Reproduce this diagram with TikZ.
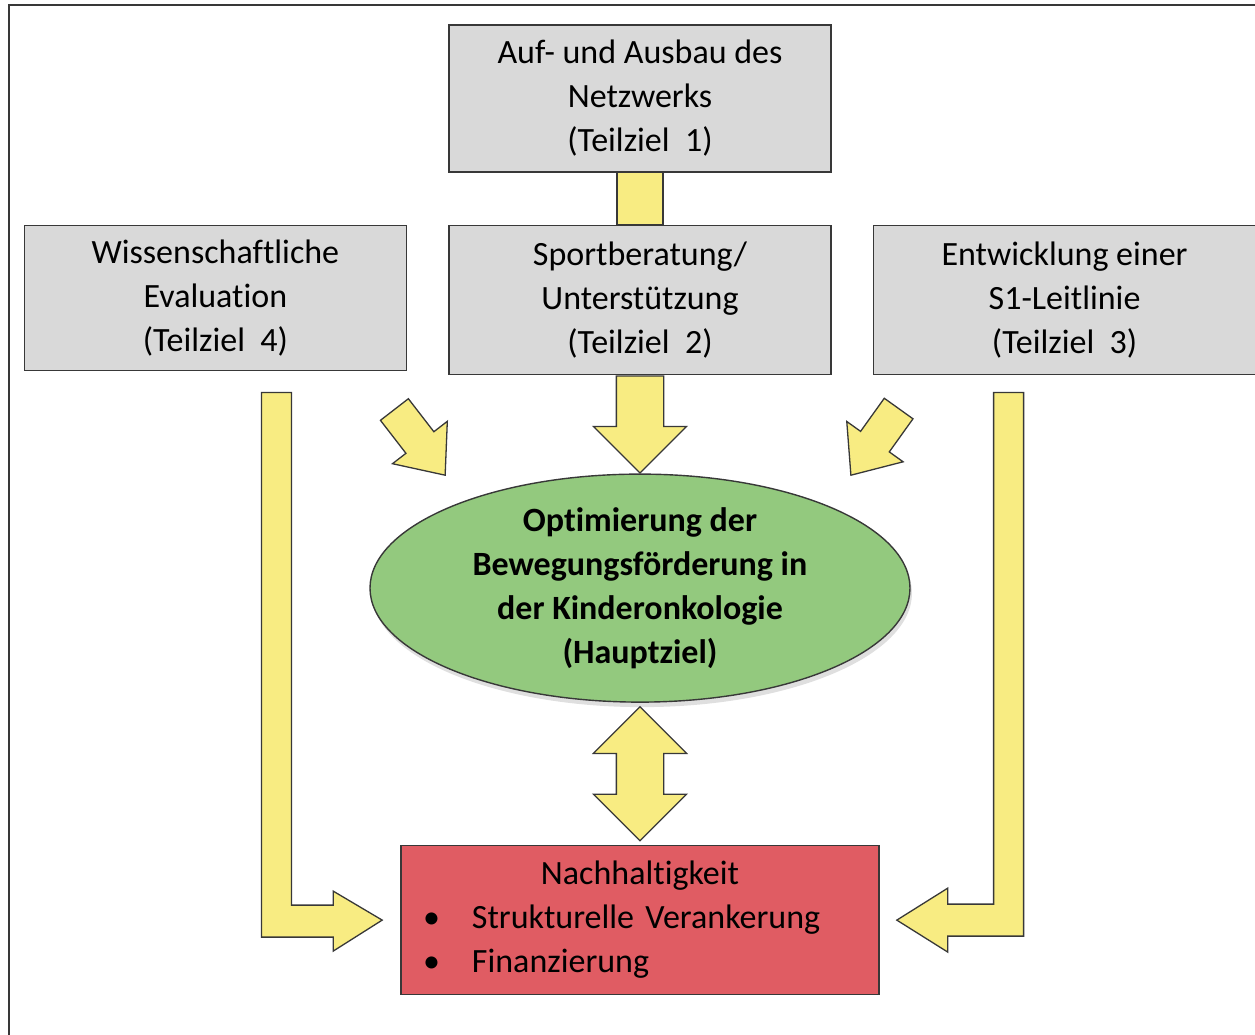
\documentclass[tikz,border=0pt]{standalone}
\usepackage{fontspec}
\setmainfont{Carlito}[Ligatures=NoCommon]
\usepackage{xcolor}
\definecolor{clEdge}{HTML}{383838}
\definecolor{clGoal}{HTML}{D9D9D9}
\definecolor{clMain}{HTML}{93C97E}
\definecolor{clResult}{HTML}{E05C63}
\definecolor{clArrow}{HTML}{F8EC82}
\usepackage{tikz}
\usetikzlibrary{positioning,calc,shapes.geometric,shapes.arrows,shadows}
\tikzset{
  goal/.style={rectangle, draw=clEdge, line width=1.6pt, fill=clGoal, align=center,
               minimum width=382pt, minimum height=149pt, inner sep=0pt},
  main/.style={ellipse, draw=clEdge, line width=1.4pt, fill=clMain, inner sep=0pt,
               minimum width=540pt, minimum height=228pt,
               drop shadow={shadow xshift=2pt, shadow yshift=-5pt, opacity=.25}},
  result/.style={rectangle, draw=clEdge, line width=1.6pt, fill=clResult, align=left,
                 minimum width=478pt, minimum height=149pt, text width=434pt, inner xsep=22pt},
  fat/.style={draw=clEdge, line width=1.3pt, fill=clArrow},
  fatarrow/.style={single arrow, fat, inner xsep=0pt, inner ysep=23pt,
                   single arrow head extend=23pt, minimum width=92pt, single arrow tip angle=90},
  slimarrow/.style={single arrow, fat, inner xsep=0pt, inner ysep=17pt,
                    single arrow head extend=17pt, minimum width=68pt, single arrow tip angle=80},
}

\begin{document}
\begin{tikzpicture}[x=1pt, y=-1pt, every node/.style={font=\fontsize{34}{44}\selectfont}]
  \clip (0,0) rectangle (1255,1034);
  \draw[draw=clEdge, line width=2pt] (9,5) rectangle (1280,1060);

  \node[goal, minimum height=147pt] (z1) at (640,98.5) {Auf- und Ausbau des\\Netzwerks\\(Teilziel~ 1)};
  \node[goal, below=52pt of z1] (z2) {Sportberatung/\\Unterstützung\\(Teilziel~ 2)};
  \node[goal, minimum height=145pt, left=41pt of z2.north west, anchor=north east] (z4)
    {Wissenschaftliche\\Evaluation\\(Teilziel~ 4)};
  \node[goal, right=41pt of z2] (z3) {Entwicklung einer\\S1-Leitlinie\\(Teilziel~ 3)};
  \node[main, below=98pt of z2] (haupt) {};
  \node[font=\fontsize{34}{44}\selectfont\bfseries, align=center] (hauptlabel) at (haupt)
    {Optimierung der\\Bewegungsförderung in\\der Kinderonkologie\\(Hauptziel)};
  \node[result, below=142pt of haupt] (nach)
    {\makebox[\linewidth]{Nachhaltigkeit}\\
     \makebox[49pt][l]{\textbullet}Strukturelle Verankerung\\
     \makebox[49pt][l]{\textbullet}Finanzierung};

  % block arrows
  \filldraw[fat] ($(z1.south)+(-23,0)$) rectangle ($(z2.north)+(23,0)$);
  \node[fatarrow, minimum height=97pt, rotate=-90, anchor=tail] (a2) at (z2.south) {};
  \node[slimarrow, minimum height=83pt, rotate=-52.3, anchor=tail] (a4) at (394,409) {};
  \node[slimarrow, minimum height=82pt, rotate=-125.6, anchor=tail] (a3) at (899,408) {};
  \node[double arrow, fat, inner xsep=0pt, inner ysep=23pt, double arrow head extend=23pt,
        minimum width=92pt, double arrow tip angle=90, minimum height=134pt, rotate=90]
        (ab) at ($(haupt.south)!.5!(nach.north)$) {};

  \coordinate (tipL) at ($(nach.west)+(-18,0)$);
  \coordinate (tipR) at ($(nach.east)+(17,0)$);
  \filldraw[fat] ($(z4.south)+(46,21)$) |- ($(tipL)+(-49,17)$) -- ++(0,14) -- (tipL)
    -- ++(-49,-29) -- ++(0,14) -| ($(z4.south)+(76,21)$) -- cycle;
  \filldraw[fat] ($(z3.south)+(-41,17)$) |- ($(tipR)+(51,16)$) -- ++(0,16) -- (tipR)
    -- ++(51,-32) -- ++(0,16) -| ($(z3.south)+(-71,17)$) -- cycle;
\end{tikzpicture}
\end{document}
